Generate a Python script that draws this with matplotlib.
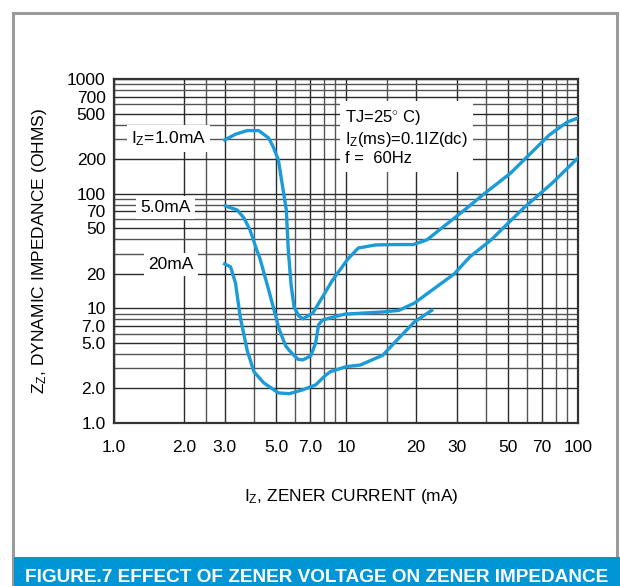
import matplotlib.pyplot as plt
from matplotlib.ticker import FixedLocator, FixedFormatter, NullFormatter
from matplotlib.patches import Rectangle

# curves: zener current (mA) vs dynamic impedance (ohms)
iz_1ma = [3.0, 3.34, 3.75, 4.2, 4.64, 4.86, 5.11, 5.53, 5.64, 5.8, 5.97, 6.25, 6.52, 7.19, 8.0, 8.73,
          10.2, 11.3, 13.4, 16.0, 19.5, 22.3, 32.4, 39.7, 51.2, 75.2, 90.0, 100.0]
zz_1ma = [294, 330, 355, 355, 306, 255, 197, 72, 32, 16, 10.3, 8.6, 8.1, 9.1, 13, 17.5,
          27, 33.6, 35.7, 36, 36, 39.5, 72, 101, 151, 325, 422, 457]

iz_5ma = [3.03, 3.40, 3.64, 3.86, 4.13, 4.25, 4.64, 4.92, 5.16, 5.5, 5.69, 6.2, 6.52, 7.05,
          7.40, 7.62, 7.92, 8.81, 9.9, 14.4, 16.9, 19.7, 29.3, 34.1, 42.2, 58.3, 77.5, 100]
zz_5ma = [78, 72, 61, 48, 32, 27.5, 14.5, 9.3, 6.5, 4.7, 4.3, 3.6, 3.55, 3.85,
          5.0, 7.2, 7.9, 8.4, 8.9, 9.3, 9.6, 11.1, 20, 28, 39.5, 75, 124, 205]

iz_20ma = [3.0, 3.18, 3.34, 3.50, 3.75, 4.01, 4.42, 5.11, 5.69, 6.52, 7.40, 8.15, 8.56,
           10.0, 11.5, 14.4, 16.9, 19.7, 23.4]
zz_20ma = [24.4, 23, 16.6, 8.4, 4.3, 2.8, 2.24, 1.83, 1.80, 1.95, 2.15, 2.6, 2.8,
           3.1, 3.2, 3.9, 5.5, 7.6, 9.6]

# axis ticks / grid
x_major = [1, 2, 3, 5, 7, 10, 20, 30, 50, 70, 100]
x_labels = ["1.0", "2.0", "3.0", "5.0", "7.0", "10", "20", "30", "50", "70", "100"]
x_minor = [2.5, 4, 6, 8, 9, 15, 40, 60, 80, 90]
y_major = [1, 2, 5, 7, 10, 20, 50, 70, 100, 200, 500, 700, 1000]
y_labels = ["1.0", "2.0", "5.0", "7.0", "10", "20", "50", "70", "100", "200", "500", "700", "1000"]
y_minor = [3, 4, 6, 8, 9, 30, 40, 60, 80, 90, 300, 400, 600, 800, 900]

plt.rcParams['font.family'] = ['Liberation Sans', 'DejaVu Sans']
plt.rcParams['mathtext.fontset'] = 'custom'
plt.rcParams['mathtext.rm'] = 'Liberation Sans'
plt.rcParams['mathtext.it'] = 'Liberation Sans:italic'

blue = '#1b9bd8'

fig = plt.figure(figsize=(6.2, 5.86), dpi=100)

# outer frame and caption banner
fig.patches.append(Rectangle((13/620, 0), 604/620, 1 - 13/586, transform=fig.transFigure,
                             fill=False, edgecolor='#9a9a9a', linewidth=2.2))
fig.patches.append(Rectangle((14/620, 0), 1, 29/586, transform=fig.transFigure,
                             facecolor='#0096d6', edgecolor='none'))
fig.text(317/620, 9/586, "FIGURE.7 EFFECT OF ZENER VOLTAGE ON ZENER IMPEDANCE",
         color='white', fontsize=13.7, fontweight='bold', ha='center', va='center')

ax = fig.add_axes([114/620, 1 - 423/586, 464/620, 344/586])
ax.set_xscale('log')
ax.set_yscale('log')
ax.set_xlim(1, 100)
ax.set_ylim(1, 1000)

ax.xaxis.set_major_locator(FixedLocator(x_major))
ax.xaxis.set_major_formatter(FixedFormatter(x_labels))
ax.xaxis.set_minor_locator(FixedLocator(x_minor))
ax.xaxis.set_minor_formatter(NullFormatter())
ax.yaxis.set_major_locator(FixedLocator(y_major))
ax.yaxis.set_major_formatter(FixedFormatter(y_labels))
ax.yaxis.set_minor_locator(FixedLocator(y_minor))
ax.yaxis.set_minor_formatter(NullFormatter())
ax.tick_params(which='both', length=0, labelsize=12.5)
ax.tick_params(axis='x', pad=12)
ax.tick_params(axis='y', pad=6)
ax.grid(True, which='major', color='#2a2a2a', linewidth=1.0)
ax.grid(True, which='minor', color='#555555', linewidth=1.0)
for s in ax.spines.values():
    s.set_color('#333333')
    s.set_linewidth(1.6)

ax.plot(iz_1ma, zz_1ma, color=blue, linewidth=2.4, solid_joinstyle='round', zorder=5)
ax.plot(iz_5ma, zz_5ma, color=blue, linewidth=2.4, solid_joinstyle='round', zorder=5)
ax.plot(iz_20ma, zz_20ma, color=blue, linewidth=2.4, solid_joinstyle='round', zorder=5)

box = dict(facecolor='white', edgecolor='none', pad=3)
ax.text(1.72, 300, r"I$_{\mathrm{Z}}$=1.0mA", fontsize=12.5, ha='center', va='center',
        bbox=box, zorder=4)
ax.text(1.67, 76, "5.0mA", fontsize=12.5, ha='center', va='center', bbox=box, zorder=4)
ax.text(1.76, 24, "20mA", fontsize=12.5, ha='center', va='center', bbox=box, zorder=4)
ax.text(0.498, 0.915, "TJ=25$^{\\circ}$ C)\n" + r"I$_{\mathrm{Z}}$(ms)=0.1IZ(dc)" + "\nf =  60Hz",
        transform=ax.transAxes, fontsize=12, ha='left', va='top', linespacing=1.2,
        bbox=dict(facecolor='white', edgecolor='none', pad=4), zorder=4)

fig.text(40/620, 1 - 251/586, r"Z$_{\mathrm{Z}}$, DYNAMIC IMPEDANCE (OHMS)", rotation=90,
         fontsize=12.5, ha='center', va='center')
fig.text(351/620, 1 - 497/586, r"I$_{\mathrm{Z}}$, ZENER CURRENT (mA)",
         fontsize=12.5, ha='center', va='center')

fig.savefig("out.png", dpi=100)
